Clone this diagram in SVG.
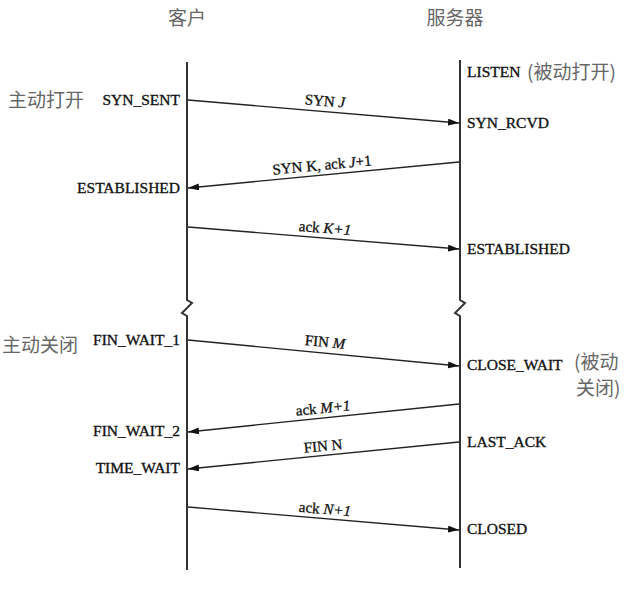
<svg xmlns="http://www.w3.org/2000/svg" width="638" height="594" viewBox="0 0 638 594">
<style>
.bg{fill:#fff}
.life{fill:none;stroke:#333;stroke-width:2}
.msg{fill:none;stroke:#222;stroke-width:1.3}
.st{font-family:"Liberation Serif","Times New Roman",serif;font-size:15.5px;fill:#111;stroke:#111;stroke-width:0.35}
.ml{font-family:"Liberation Serif","Times New Roman",serif;font-size:15px;fill:#111;stroke:#111;stroke-width:0.3;text-anchor:middle}
.it{font-style:italic}
.zh{font-family:"Noto Sans CJK SC","Noto Sans",sans-serif;font-size:19px;fill:#666}
.end{text-anchor:end}
.mid{text-anchor:middle}
</style>
<defs>
<marker id="ah" markerUnits="userSpaceOnUse" markerWidth="12" markerHeight="8" refX="11" refY="3.5" orient="auto">
<path d="M0,0 L11,3.5 L0,7 z" fill="#111"/>
</marker>
</defs>
<rect class="bg" x="0" y="0" width="638" height="594"/>

<g id="client">
<text class="zh mid" x="187" y="25">客户</text>
<path class="life" d="M187,62 L187,300 L192,303 L182,313 L187,316 L187,570"/>
<text class="zh" x="8" y="107">主动打开</text>
<text class="zh" x="2" y="352">主动关闭</text>
<text class="st end" x="180" y="105">SYN_SENT</text>
<text class="st end" x="180" y="193">ESTABLISHED</text>
<text class="st end" x="180" y="345">FIN_WAIT_1</text>
<text class="st end" x="180" y="436">FIN_WAIT_2</text>
<text class="st end" x="180" y="473">TIME_WAIT</text>
</g>

<g id="server">
<text class="zh mid" x="455" y="25">服务器</text>
<path class="life" d="M460,60 L460,300 L465,303 L455,313 L460,316 L460,568"/>
<text class="st" x="467" y="77">LISTEN</text>
<text class="zh" x="527" y="79">(被动打开)</text>
<text class="st" x="467" y="128">SYN_RCVD</text>
<text class="st" x="467" y="254">ESTABLISHED</text>
<text class="st" x="467" y="370">CLOSE_WAIT</text>
<text class="zh" x="574" y="369">(被动</text>
<text class="zh" x="576" y="395">关闭)</text>
<text class="st" x="467" y="447">LAST_ACK</text>
<text class="st" x="467" y="534">CLOSED</text>
</g>

<g id="connectors">
<line class="msg" x1="188" y1="100" x2="459" y2="123" marker-end="url(#ah)"/>
<line class="msg" x1="459" y1="162" x2="188" y2="188" marker-end="url(#ah)"/>
<line class="msg" x1="188" y1="227" x2="459" y2="249" marker-end="url(#ah)"/>
<line class="msg" x1="188" y1="340" x2="459" y2="366" marker-end="url(#ah)"/>
<line class="msg" x1="459" y1="404" x2="188" y2="432" marker-end="url(#ah)"/>
<line class="msg" x1="459" y1="442" x2="188" y2="469" marker-end="url(#ah)"/>
<line class="msg" x1="188" y1="507" x2="459" y2="530" marker-end="url(#ah)"/>

<text class="ml" x="325" y="106" transform="rotate(4.8 325 101)">SYN <tspan class="it">J</tspan></text>
<text class="ml" x="322" y="170" transform="rotate(-5.4 322 165)">SYN K, ack <tspan class="it">J</tspan>+1</text>
<text class="ml" x="325" y="233" transform="rotate(4.6 325 228)">ack <tspan class="it">K+1</tspan></text>
<text class="ml" x="325" y="347" transform="rotate(5.4 325 342)">FIN <tspan class="it">M</tspan></text>
<text class="ml" x="323" y="413" transform="rotate(-5.9 323 408)">ack <tspan class="it">M+1</tspan></text>
<text class="ml" x="323" y="451" transform="rotate(-5.6 323 446)">FIN N</text>
<text class="ml" x="325" y="514" transform="rotate(4.8 325 509)">ack <tspan class="it">N+1</tspan></text>
</g>
</svg>
